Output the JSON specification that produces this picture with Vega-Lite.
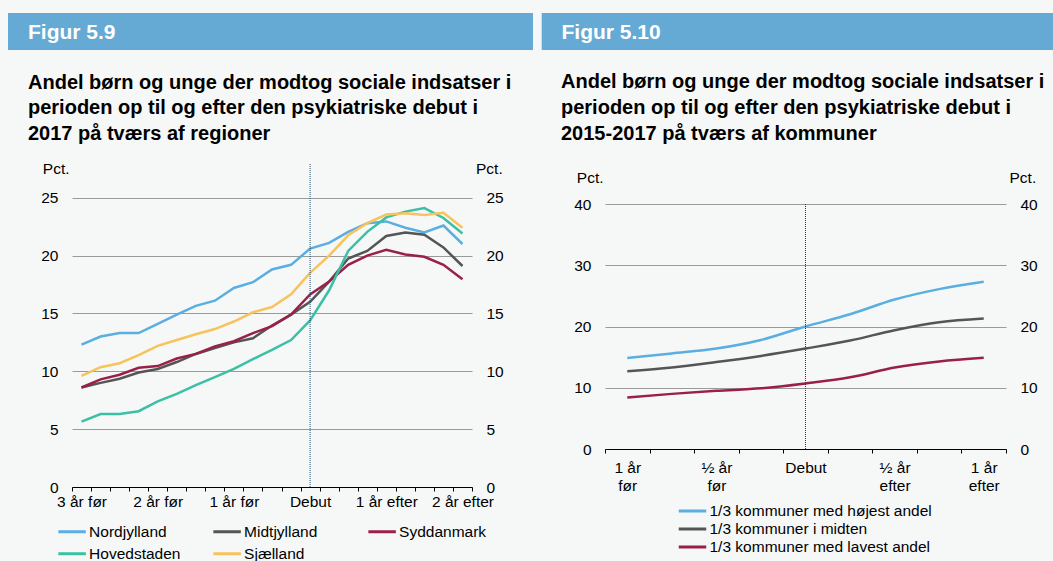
{
  "$schema": "https://vega.github.io/schema/vega-lite/v6.json",
  "background": "#f6f8f8",
  "padding": {"left": 8, "top": 13, "right": 0, "bottom": 0},
  "spacing": 8,
  "resolve": {"scale": {"color": "independent"}, "legend": {"color": "independent"}},
  "config": {
    "font": "Liberation Sans",
    "view": {"stroke": null},
    "axis": {"labelFont": "Liberation Sans", "labelFontSize": 15.5, "labelColor": "#000000", "titleFont": "Liberation Sans", "titleFontSize": 15.5, "titleFontWeight": "normal", "titleColor": "#000000"},
    "legend": {"labelFont": "Liberation Sans", "labelFontSize": 15.5, "labelColor": "#000000"},
    "title": {"font": "Liberation Sans"}
  },
  "datasets": {
    "regions": [
      {"t": -12, "region": "Nordjylland", "v": 12.3}, {"t": -11, "region": "Nordjylland", "v": 13.0}, {"t": -10, "region": "Nordjylland", "v": 13.3}, {"t": -9, "region": "Nordjylland", "v": 13.3}, {"t": -8, "region": "Nordjylland", "v": 14.1}, {"t": -7, "region": "Nordjylland", "v": 14.9}, {"t": -6, "region": "Nordjylland", "v": 15.65}, {"t": -5, "region": "Nordjylland", "v": 16.1}, {"t": -4, "region": "Nordjylland", "v": 17.2}, {"t": -3, "region": "Nordjylland", "v": 17.7}, {"t": -2, "region": "Nordjylland", "v": 18.8}, {"t": -1, "region": "Nordjylland", "v": 19.2}, {"t": 0, "region": "Nordjylland", "v": 20.6}, {"t": 1, "region": "Nordjylland", "v": 21.1}, {"t": 2, "region": "Nordjylland", "v": 22.05}, {"t": 3, "region": "Nordjylland", "v": 22.8}, {"t": 4, "region": "Nordjylland", "v": 22.95}, {"t": 5, "region": "Nordjylland", "v": 22.4}, {"t": 6, "region": "Nordjylland", "v": 22.0}, {"t": 7, "region": "Nordjylland", "v": 22.6}, {"t": 8, "region": "Nordjylland", "v": 21.0},
      {"t": -12, "region": "Midtjylland", "v": 8.6}, {"t": -11, "region": "Midtjylland", "v": 9.0}, {"t": -10, "region": "Midtjylland", "v": 9.35}, {"t": -9, "region": "Midtjylland", "v": 9.9}, {"t": -8, "region": "Midtjylland", "v": 10.2}, {"t": -7, "region": "Midtjylland", "v": 10.8}, {"t": -6, "region": "Midtjylland", "v": 11.5}, {"t": -5, "region": "Midtjylland", "v": 12.0}, {"t": -4, "region": "Midtjylland", "v": 12.5}, {"t": -3, "region": "Midtjylland", "v": 12.85}, {"t": -2, "region": "Midtjylland", "v": 13.95}, {"t": -1, "region": "Midtjylland", "v": 14.9}, {"t": 0, "region": "Midtjylland", "v": 16.0}, {"t": 1, "region": "Midtjylland", "v": 17.75}, {"t": 2, "region": "Midtjylland", "v": 19.75}, {"t": 3, "region": "Midtjylland", "v": 20.4}, {"t": 4, "region": "Midtjylland", "v": 21.7}, {"t": 5, "region": "Midtjylland", "v": 22.0}, {"t": 6, "region": "Midtjylland", "v": 21.8}, {"t": 7, "region": "Midtjylland", "v": 20.7}, {"t": 8, "region": "Midtjylland", "v": 19.1},
      {"t": -12, "region": "Syddanmark", "v": 8.6}, {"t": -11, "region": "Syddanmark", "v": 9.3}, {"t": -10, "region": "Syddanmark", "v": 9.7}, {"t": -9, "region": "Syddanmark", "v": 10.3}, {"t": -8, "region": "Syddanmark", "v": 10.45}, {"t": -7, "region": "Syddanmark", "v": 11.1}, {"t": -6, "region": "Syddanmark", "v": 11.5}, {"t": -5, "region": "Syddanmark", "v": 12.15}, {"t": -4, "region": "Syddanmark", "v": 12.6}, {"t": -3, "region": "Syddanmark", "v": 13.3}, {"t": -2, "region": "Syddanmark", "v": 13.9}, {"t": -1, "region": "Syddanmark", "v": 14.9}, {"t": 0, "region": "Syddanmark", "v": 16.65}, {"t": 1, "region": "Syddanmark", "v": 17.75}, {"t": 2, "region": "Syddanmark", "v": 19.2}, {"t": 3, "region": "Syddanmark", "v": 20.0}, {"t": 4, "region": "Syddanmark", "v": 20.5}, {"t": 5, "region": "Syddanmark", "v": 20.1}, {"t": 6, "region": "Syddanmark", "v": 19.9}, {"t": 7, "region": "Syddanmark", "v": 19.2}, {"t": 8, "region": "Syddanmark", "v": 17.95},
      {"t": -12, "region": "Hovedstaden", "v": 5.65}, {"t": -11, "region": "Hovedstaden", "v": 6.3}, {"t": -10, "region": "Hovedstaden", "v": 6.3}, {"t": -9, "region": "Hovedstaden", "v": 6.55}, {"t": -8, "region": "Hovedstaden", "v": 7.4}, {"t": -7, "region": "Hovedstaden", "v": 8.05}, {"t": -6, "region": "Hovedstaden", "v": 8.8}, {"t": -5, "region": "Hovedstaden", "v": 9.5}, {"t": -4, "region": "Hovedstaden", "v": 10.2}, {"t": -3, "region": "Hovedstaden", "v": 11.05}, {"t": -2, "region": "Hovedstaden", "v": 11.85}, {"t": -1, "region": "Hovedstaden", "v": 12.7}, {"t": 0, "region": "Hovedstaden", "v": 14.4}, {"t": 1, "region": "Hovedstaden", "v": 17.0}, {"t": 2, "region": "Hovedstaden", "v": 20.4}, {"t": 3, "region": "Hovedstaden", "v": 22.05}, {"t": 4, "region": "Hovedstaden", "v": 23.3}, {"t": 5, "region": "Hovedstaden", "v": 23.8}, {"t": 6, "region": "Hovedstaden", "v": 24.1}, {"t": 7, "region": "Hovedstaden", "v": 23.25}, {"t": 8, "region": "Hovedstaden", "v": 21.9},
      {"t": -12, "region": "Sjælland", "v": 9.6}, {"t": -11, "region": "Sjælland", "v": 10.35}, {"t": -10, "region": "Sjælland", "v": 10.7}, {"t": -9, "region": "Sjælland", "v": 11.4}, {"t": -8, "region": "Sjælland", "v": 12.2}, {"t": -7, "region": "Sjælland", "v": 12.7}, {"t": -6, "region": "Sjælland", "v": 13.2}, {"t": -5, "region": "Sjælland", "v": 13.65}, {"t": -4, "region": "Sjælland", "v": 14.3}, {"t": -3, "region": "Sjælland", "v": 15.1}, {"t": -2, "region": "Sjælland", "v": 15.55}, {"t": -1, "region": "Sjælland", "v": 16.65}, {"t": 0, "region": "Sjælland", "v": 18.5}, {"t": 1, "region": "Sjælland", "v": 20.0}, {"t": 2, "region": "Sjælland", "v": 21.75}, {"t": 3, "region": "Sjælland", "v": 22.8}, {"t": 4, "region": "Sjælland", "v": 23.55}, {"t": 5, "region": "Sjælland", "v": 23.65}, {"t": 6, "region": "Sjælland", "v": 23.5}, {"t": 7, "region": "Sjælland", "v": 23.7}, {"t": 8, "region": "Sjælland", "v": 22.4}
    ],
    "kommuner": [
      {"t": -4, "group": "1/3 kommuner med højest andel", "v": 14.85}, {"t": -3, "group": "1/3 kommuner med højest andel", "v": 15.6}, {"t": -2, "group": "1/3 kommuner med højest andel", "v": 16.4}, {"t": -1, "group": "1/3 kommuner med højest andel", "v": 17.8}, {"t": 0, "group": "1/3 kommuner med højest andel", "v": 20.0}, {"t": 1, "group": "1/3 kommuner med højest andel", "v": 22.0}, {"t": 2, "group": "1/3 kommuner med højest andel", "v": 24.4}, {"t": 3, "group": "1/3 kommuner med højest andel", "v": 26.1}, {"t": 4, "group": "1/3 kommuner med højest andel", "v": 27.3},
      {"t": -4, "group": "1/3 kommuner i midten", "v": 12.7}, {"t": -3, "group": "1/3 kommuner i midten", "v": 13.3}, {"t": -2, "group": "1/3 kommuner i midten", "v": 14.2}, {"t": -1, "group": "1/3 kommuner i midten", "v": 15.2}, {"t": 0, "group": "1/3 kommuner i midten", "v": 16.4}, {"t": 1, "group": "1/3 kommuner i midten", "v": 17.7}, {"t": 2, "group": "1/3 kommuner i midten", "v": 19.4}, {"t": 3, "group": "1/3 kommuner i midten", "v": 20.7}, {"t": 4, "group": "1/3 kommuner i midten", "v": 21.3},
      {"t": -4, "group": "1/3 kommuner med lavest andel", "v": 8.4}, {"t": -3, "group": "1/3 kommuner med lavest andel", "v": 9.0}, {"t": -2, "group": "1/3 kommuner med lavest andel", "v": 9.5}, {"t": -1, "group": "1/3 kommuner med lavest andel", "v": 9.9}, {"t": 0, "group": "1/3 kommuner med lavest andel", "v": 10.7}, {"t": 1, "group": "1/3 kommuner med lavest andel", "v": 11.7}, {"t": 2, "group": "1/3 kommuner med lavest andel", "v": 13.3}, {"t": 3, "group": "1/3 kommuner med lavest andel", "v": 14.3}, {"t": 4, "group": "1/3 kommuner med lavest andel", "v": 14.9}
    ]
  },
  "hconcat": [
    {
      "spacing": 22,
      "vconcat": [
        {
          "width": 461,
          "height": 37,
          "data": {"values": [{"figur": "Figur 5.9"}]},
          "mark": {"type": "rect", "color": "#64aad5"},
          "encoding": {
            "x": {"datum": 0, "type": "quantitative", "scale": {"domain": [0, 1], "range": [-64, 461]}, "axis": null},
            "x2": {"datum": 1}
          },
          "title": {"text": "Figur 5.9", "color": "#ffffff", "fontSize": 21, "fontWeight": "bold", "anchor": "start", "frame": "group", "orient": "top", "offset": -47, "baseline": "alphabetic", "dx": -44}
        },
        {
          "width": 400,
          "height": 324,
          "title": {"text": ["Andel børn og unge der modtog sociale indsatser i", "perioden op til og efter den psykiatriske debut i", "2017 på tværs af regioner"], "anchor": "start", "frame": "group", "dx": -44, "fontSize": 20, "fontWeight": "bold", "lineHeight": 25.7, "baseline": "bottom", "offset": -2.5, "color": "#000000"},
          "layer": [
            {
              "data": {"name": "regions"},
              "mark": {"type": "line", "strokeWidth": 2.5},
              "encoding": {
                "x": {"field": "t", "type": "ordinal", "scale": {"type": "band", "domain": [-12, -11, -10, -9, -8, -7, -6, -5, -4, -3, -2, -1, 0, 1, 2, 3, 4, 5, 6, 7, 8], "paddingInner": 0, "paddingOuter": 0},
                  "axis": {"title": null, "tickBand": "extent", "ticks": true, "tickSize": 4, "tickColor": "#000000", "domainColor": "#000000", "labelAngle": 0, "labelPadding": 3, "labelOverlap": false, "grid": false,
                    "labelExpr": "datum.value == -12 ? '3 år før' : datum.value == -8 ? '2 år før' : datum.value == -4 ? '1 år før' : datum.value == 0 ? 'Debut' : datum.value == 4 ? '1 år efter' : datum.value == 8 ? '2 år efter' : ''"}},
                "y": {"field": "v", "type": "quantitative", "scale": {"domain": [0, 28], "nice": false},
                  "axis": {"orient": "left", "values": [0, 5, 10, 15, 20, 25], "grid": true, "gridColor": "#9a9a9a", "gridWidth": 1, "domain": false, "ticks": false, "tickSize": 0, "labelPadding": 14, "title": "Pct.", "titleAngle": 0, "titleAlign": "right", "titleBaseline": "middle", "titleX": -3, "titleY": 5.5}},
                "color": {"field": "region", "type": "nominal",
                  "scale": {"domain": ["Nordjylland", "Midtjylland", "Syddanmark", "Hovedstaden", "Sjælland"], "range": ["#5aaee0", "#555555", "#9a2049", "#3cbfa4", "#f7c35c"]},
                  "legend": {"orient": "none", "legendX": -15.4, "legendY": 507.7, "padding": 0, "columns": 3, "direction": "horizontal", "title": null, "symbolType": "stroke", "symbolSize": 756, "symbolStrokeWidth": 3, "clipHeight": 22, "labelFontSize": 15.5, "labelOffset": 1.5, "columnPadding": 31, "rowPadding": 0, "gridAlign": "all"}}
              }
            },
            {
              "data": {"values": [{"t": 0}]},
              "mark": {"type": "rule", "strokeDash": [1, 1], "color": "#1e4d6b", "strokeWidth": 1},
              "encoding": {
                "x": {"field": "t", "type": "ordinal"},
                "y": {"datum": 0, "type": "quantitative",
                  "axis": {"orient": "right", "values": [0, 5, 10, 15, 20, 25], "grid": false, "domain": false, "ticks": false, "tickSize": 0, "labelPadding": 14, "title": "Pct.", "titleAngle": 0, "titleAlign": "left", "titleBaseline": "middle", "titleX": 3.5, "titleY": 5.5}},
                "y2": {"datum": 28}
              }
            }
          ],
          "resolve": {"axis": {"y": "independent"}}
        }
      ]
    },
    {
      "spacing": 22,
      "vconcat": [
        {
          "width": 448.7,
          "height": 37,
          "data": {"values": [{"figur": "Figur 5.10"}]},
          "mark": {"type": "rect", "color": "#64aad5"},
          "encoding": {
            "x": {"datum": 0, "type": "quantitative", "scale": {"domain": [0, 1], "range": [-63.3, 448.7]}, "axis": null},
            "x2": {"datum": 1}
          },
          "title": {"text": "Figur 5.10", "color": "#ffffff", "fontSize": 21, "fontWeight": "bold", "anchor": "start", "frame": "group", "orient": "top", "offset": -47, "baseline": "alphabetic", "dx": -43.5}
        },
        {
          "width": 401,
          "height": 245,
          "title": {"text": ["Andel børn og unge der modtog sociale indsatser i", "perioden op til og efter den psykiatriske debut i", "2015-2017 på tværs af kommuner"], "anchor": "start", "frame": "group", "dx": -44, "fontSize": 20, "fontWeight": "bold", "lineHeight": 25.7, "baseline": "bottom", "offset": 6.3, "color": "#000000"},
          "layer": [
            {
              "data": {"name": "kommuner"},
              "mark": {"type": "line", "strokeWidth": 2.5, "interpolate": "monotone"},
              "encoding": {
                "x": {"field": "t", "type": "ordinal", "scale": {"type": "band", "domain": [-4, -3, -2, -1, 0, 1, 2, 3, 4], "paddingInner": 0, "paddingOuter": 0},
                  "axis": {"title": null, "tickBand": "extent", "ticks": true, "tickSize": 4, "tickColor": "#000000", "domainColor": "#000000", "labelAngle": 0, "labelPadding": 7, "labelOverlap": false, "grid": false, "labelLineHeight": 18.7,
                    "labelExpr": "datum.value == -4 ? ['1 år', 'før'] : datum.value == -2 ? ['½ år', 'før'] : datum.value == 0 ? 'Debut' : datum.value == 2 ? ['½ år', 'efter'] : datum.value == 4 ? ['1 år', 'efter'] : ''"}},
                "y": {"field": "v", "type": "quantitative", "scale": {"domain": [0, 40], "nice": false},
                  "axis": {"orient": "left", "values": [0, 10, 20, 30, 40], "grid": true, "gridColor": "#9a9a9a", "gridWidth": 1, "domain": false, "ticks": false, "tickSize": 0, "labelPadding": 14, "title": "Pct.", "titleAngle": 0, "titleAlign": "right", "titleBaseline": "middle", "titleX": -2, "titleY": -27}},
                "color": {"field": "group", "type": "nominal",
                  "scale": {"domain": ["1/3 kommuner med højest andel", "1/3 kommuner i midten", "1/3 kommuner med lavest andel"], "range": ["#5aaee0", "#555555", "#9a2049"]},
                  "legend": {"orient": "none", "legendX": 72, "legendY": 489.3, "padding": 0, "columns": 1, "direction": "vertical", "title": null, "symbolType": "stroke", "symbolSize": 756, "symbolStrokeWidth": 3, "clipHeight": 17.3, "labelFontSize": 15.5, "labelOffset": 1.5, "rowPadding": 0, "labelLimit": 400}}
              }
            },
            {
              "data": {"values": [{"t": 0}]},
              "mark": {"type": "rule", "strokeDash": [1, 1], "color": "#333333", "strokeWidth": 1},
              "encoding": {
                "x": {"field": "t", "type": "ordinal"},
                "y": {"datum": 0, "type": "quantitative",
                  "axis": {"orient": "right", "values": [0, 10, 20, 30, 40], "grid": false, "domain": false, "ticks": false, "tickSize": 0, "labelPadding": 14, "title": "Pct.", "titleAngle": 0, "titleAlign": "left", "titleBaseline": "middle", "titleX": 3, "titleY": -27}},
                "y2": {"datum": 40}
              }
            }
          ],
          "resolve": {"axis": {"y": "independent"}}
        }
      ]
    }
  ]
}
